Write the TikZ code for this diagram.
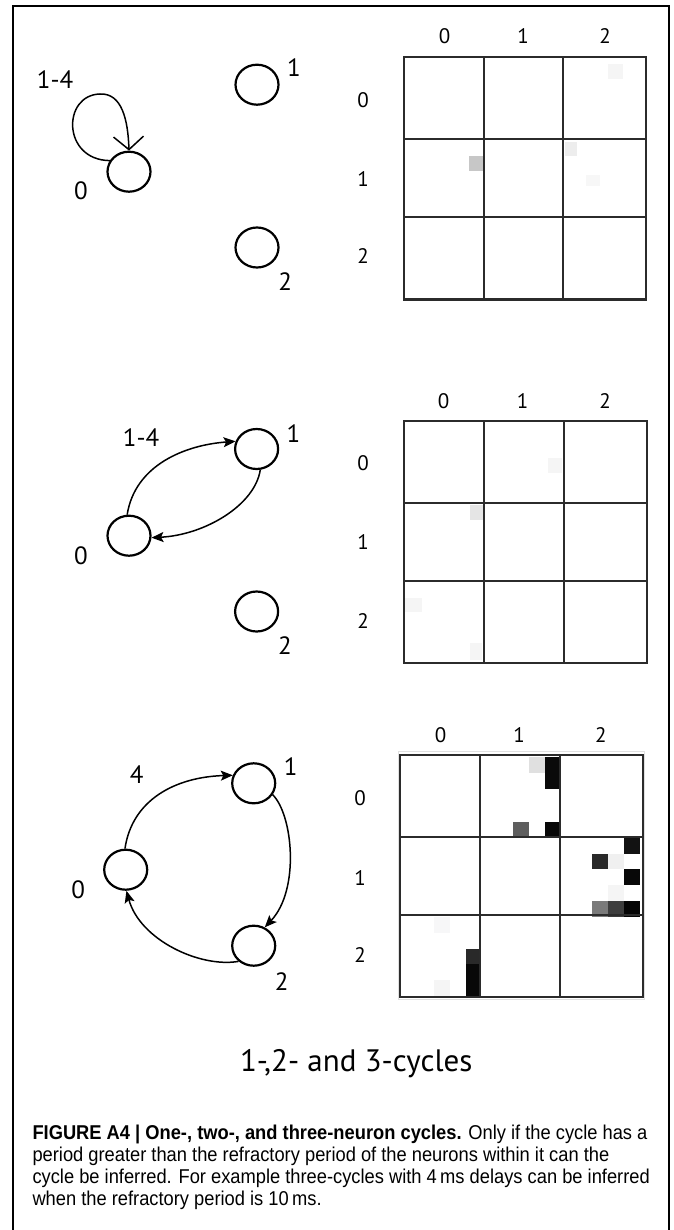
\documentclass[tikz,border=0pt]{standalone}
\usepackage{fontspec}
\setmainfont[FakeStretch=0.915]{Liberation Sans}
\newfontfamily\labfont{PT Sans}
\usetikzlibrary{arrows.meta,shapes.geometric}
\definecolor{gridc}{HTML}{2B2B2B}
\begin{document}
\begin{tikzpicture}[x=1pt,y=-1pt,
  neuron/.style={draw, ellipse, minimum width=43pt, minimum height=40pt, inner sep=0pt, line width=2.2pt},
  glab/.style={font=\labfont\fontsize{25}{28}\selectfont, inner sep=0pt},
  mlab/.style={font=\labfont\fontsize{21}{24}\selectfont, inner sep=0pt},
  syn/.style={line width=1.5pt, -{Stealth[length=12pt,width=10pt,inset=2.5pt]}},
  selfsyn/.style={line width=1.5pt, -{Straight Barb[length=13pt,width=30pt]}},
  gridline/.style={draw=gridc, line width=2pt},
  captext/.style={font=\fontsize{20}{24}\selectfont, inner sep=0pt, anchor=base west},
]
\useasboundingbox (0,0) rectangle (673,1230);
\fill[white] (0,0) rectangle (673,1230);
% outer frame (open at the bottom)
\draw[line width=1.3pt] (13,1232) -- (13,6) -- (669,6) -- (669,1232);

% ---------------- Panel 1 ----------------
\node[neuron] (a0) at (129,171.7) {};
\node[neuron] (a1) at (257,84.7) {};
\node[neuron] (a2) at (257,247.5) {};
\node[glab] (a0l) at (81,190.5) {0};
\node[glab] (a1l) at (294,67.5) {1};
\node[glab] (a2l) at (285.3,282) {2};
\node[glab] (a00w) at (55,80) {1-4};
\draw[selfsyn] (a0.150) .. controls (62,160) and (62,95) .. (100,94)
  .. controls (122,93) and (128,120) .. (a0.90);

% matrix 1 cells
\fill[black!22] (469,156) rectangle (484,171);
\fill[blue!4!black!4] (608,64) rectangle (623,79);
\fill[black!7] (565,142) rectangle (577,156);
\fill[black!3] (586,175) rectangle (600,186);
\draw[gridline] (403.5,57.5) rectangle (646,299.5);
\draw[gridline] (483.5,57.5) -- (483.5,299.5);
\draw[gridline] (563,57.5) -- (563,299.5);
\draw[gridline] (403.5,138.7) -- (646,138.7);
\draw[gridline] (403.5,216.7) -- (646,216.7);
\node[mlab] (m1c0) at (444.6,35.8) {0};
\node[mlab] (m1c1) at (523,35.8) {1};
\node[mlab] (m1c2) at (605,35.8) {2};
\node[mlab] (m1r0) at (363,100) {0};
\node[mlab] (m1r1) at (363,178.8) {1};
\node[mlab] (m1r2) at (363,256.3) {2};

% ---------------- Panel 2 ----------------
\node[neuron] (b0) at (129,535.7) {};
\node[neuron] (b1) at (256.6,449) {};
\node[neuron] (b2) at (256.6,611.5) {};
\node[glab] (b0l) at (81,555.3) {0};
\node[glab] (b1l) at (293.5,433.3) {1};
\node[glab] (b2l) at (285,645.8) {2};
\node[glab] (b01w) at (141,438) {1-4};
\draw[syn] (b0.95) .. controls (135,465) and (185,445) .. (b1.160);
\draw[syn] (b1.-80) .. controls (255,505) and (205,535) .. (b0.-5);

% matrix 2 cells
\fill[black!10] (470,505) rectangle (484,520);
\fill[black!4] (548,458) rectangle (562,473);
\fill[black!4] (404,598) rectangle (422,612);
\fill[black!4] (470,643) rectangle (482,660);
\draw[gridline] (404,420.7) rectangle (647,663.3);
\draw[gridline] (484.4,420.7) -- (484.4,663.3);
\draw[gridline] (564,420.7) -- (564,663.3);
\draw[gridline] (404,503.3) -- (647,503.3);
\draw[gridline] (404,580.7) -- (647,580.7);
\node[mlab] (m2c0) at (443.7,400.8) {0};
\node[mlab] (m2c1) at (522.7,400.8) {1};
\node[mlab] (m2c2) at (605,400.8) {2};
\node[mlab] (m2r0) at (363,463.3) {0};
\node[mlab] (m2r1) at (363,542.5) {1};
\node[mlab] (m2r2) at (363,620.8) {2};

% ---------------- Panel 3 ----------------
\node[neuron] (c0) at (125.7,869.7) {};
\node[neuron] (c1) at (253.7,783.3) {};
\node[neuron] (c2) at (253.7,945.7) {};
\node[glab] (c0l) at (78.3,890) {0};
\node[glab] (c1l) at (290.8,767) {1};
\node[glab] (c2l) at (281.7,981.7) {2};
\node[glab] (c01w) at (136.7,774.2) {4};
\draw[syn] (c0.92) .. controls (132,800) and (175,777) .. (c1.159);
\draw[syn] (c1.-31) .. controls (293,815) and (300,890) .. (c2.59);
\draw[syn] (c2.-134) .. controls (200,968) and (140,940) .. (c0.-88);

% matrix 3 cells
\draw[black!12, line width=1pt] (398.3,751.7) rectangle (644.5,999);
\fill[black!12] (529,757) rectangle (545,773);
\fill[black!96] (545,757) rectangle (561,789);
\fill[black!63] (513,821.5) rectangle (529,837);
\fill[black!97] (545,821.5) rectangle (561,837);
\fill[black!93] (624,838) rectangle (640,853.5);
\fill[black!84] (592,853.5) rectangle (608,869);
\fill[black!6] (608,853.5) rectangle (624,869);
\fill[black!97] (624,869) rectangle (640,885);
\fill[blue!3!black!4] (608,885) rectangle (624,900.5);
\fill[black!52] (592,900.5) rectangle (608,916.5);
\fill[black!76] (608,900.5) rectangle (624,916.5);
\fill[black!98] (624,900.5) rectangle (640,916.5);
\fill[blue!4!black!3] (434,917) rectangle (450,932.5);
\fill[black!84] (466,948.5) rectangle (481,964);
\fill[black!97] (466,964) rectangle (481,996);
\fill[black!4] (434,980) rectangle (450,996);
\draw[gridline] (400,755) rectangle (642.7,997);
\draw[gridline] (480,755) -- (480,997);
\draw[gridline] (560,755) -- (560,997);
\draw[gridline] (400,837.3) -- (642.7,837.3);
\draw[gridline] (400,915) -- (642.7,915);
\node[mlab] (m3c0) at (440.7,735.5) {0};
\node[mlab] (m3c1) at (519,735.5) {1};
\node[mlab] (m3c2) at (600.8,735.5) {2};
\node[mlab] (m3r0) at (360,798.3) {0};
\node[mlab] (m3r1) at (360,878.3) {1};
\node[mlab] (m3r2) at (360,955) {2};

% ---------------- Title and caption ----------------
\node[font=\labfont\fontsize{31}{36}\selectfont, inner sep=0pt, anchor=base] (title) at (356.2,1071.7) {1-,2- and 3-cycles};
\node[captext] (l1) at (32.3,1139.3) {\textbf{FIGURE A4 | One-, two-, and three-neuron cycles.} Only if the cycle has a};
\node[captext] (l2) at (32.3,1161.7) {period greater than the refractory period of the neurons within it can the};
\node[captext] (l3) at (32.3,1183.3) {cycle be inferred. For example three-cycles with 4\,ms delays can be inferred};
\node[captext] (l4) at (32.3,1205) {when the refractory period is 10\,ms.};
\end{tikzpicture}
\end{document}
